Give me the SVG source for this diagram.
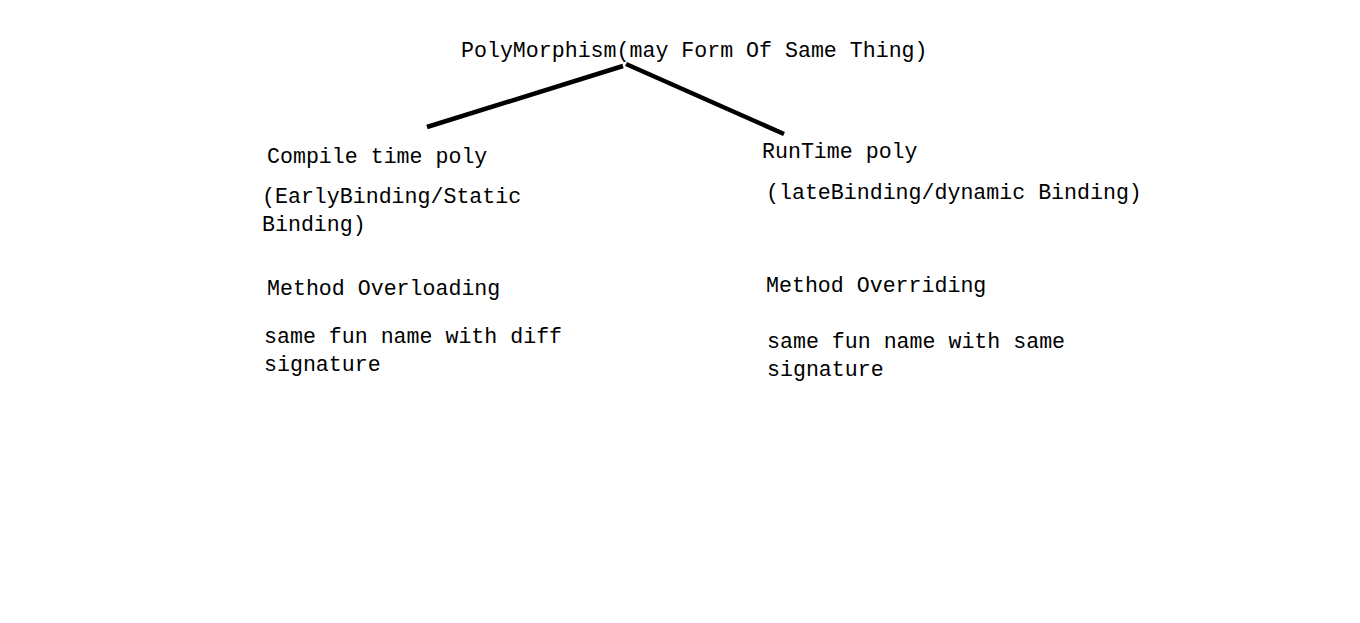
<svg xmlns="http://www.w3.org/2000/svg" width="1360" height="623" viewBox="0 0 1360 623">
<style>
text{font-family:"Liberation Mono","DejaVu Sans Mono",monospace;font-size:21.6px;fill:#000}
.c{stroke:#000;stroke-width:4.5;fill:none;stroke-linecap:butt}
</style>
<rect width="1360" height="623" fill="#fff"/>
<g id="connectors">
<line class="c" x1="427" y1="127" x2="623" y2="66"/>
<line class="c" x1="626" y1="64" x2="784" y2="134"/>
</g>
<g id="root"><text x="461" y="57">PolyMorphism(may Form Of Same Thing)</text></g>
<g id="compile">
<text x="267" y="163">Compile time poly</text>
<text x="262" y="203">(EarlyBinding/Static</text>
<text x="262" y="231">Binding)</text>
<text x="267" y="295">Method Overloading</text>
<text x="264" y="343">same fun name with diff</text>
<text x="264" y="371">signature</text>
</g>
<g id="runtime">
<text x="762" y="158">RunTime poly</text>
<text x="766" y="199">(lateBinding/dynamic Binding)</text>
<text x="766" y="292">Method Overriding</text>
<text x="767" y="348">same fun name with same</text>
<text x="767" y="376">signature</text>
</g>
</svg>
